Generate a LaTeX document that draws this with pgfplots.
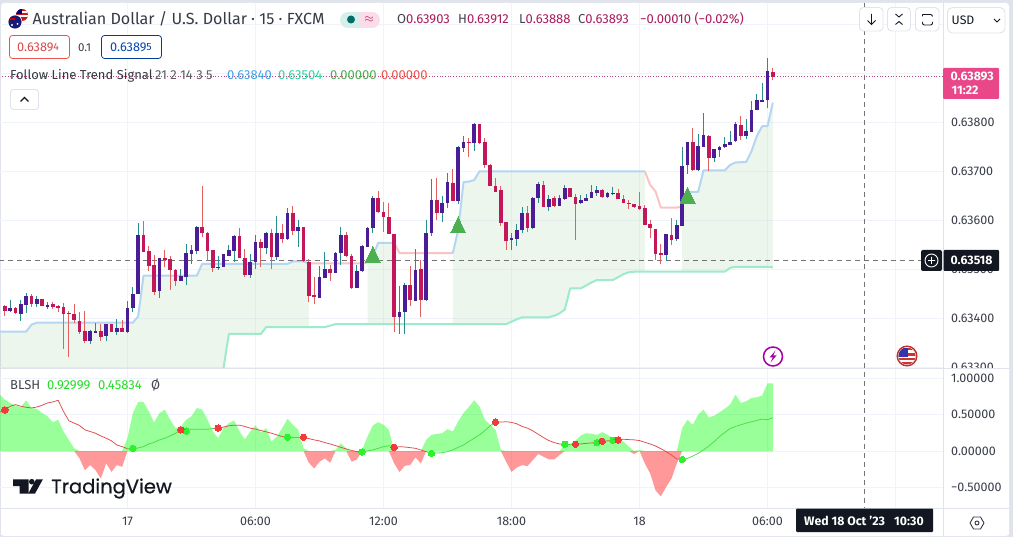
\documentclass[border=0pt]{standalone}
\usepackage{fontspec}
\usepackage{pgfplots}
\usepackage{pgfplotstable}
\pgfplotsset{compat=1.18}
\setmainfont{Fira Sans}
\newfontfamily\tvfont[FakeBold=0.5]{Poppins}
\definecolor{pagebg}{HTML}{E0E3EB}
\definecolor{gridc}{HTML}{F0F3FA}
\definecolor{framec}{HTML}{E0E3EB}
\definecolor{inkc}{HTML}{131722}
\definecolor{txtc}{HTML}{3A3E4A}
\definecolor{upbody}{HTML}{4A1C96}
\definecolor{upwick}{HTML}{2A8C8C}
\definecolor{dnbody}{HTML}{C2185B}
\definecolor{dnwick}{HTML}{E2605E}
\definecolor{trendblue}{HTML}{B5D6F2}
\definecolor{trendred}{HTML}{F9C4C6}
\definecolor{mint}{HTML}{9DEBCB}
\definecolor{tri}{HTML}{4CAF50}
\definecolor{sigred}{HTML}{E24A4A}
\definecolor{siggreen}{HTML}{45E045}
\definecolor{dotred}{HTML}{F23A3A}
\definecolor{dotgreen}{HTML}{30EE30}
\definecolor{tagpink}{HTML}{E9478A}
\definecolor{hdrval}{HTML}{A81B5E}
\definecolor{lgblue}{HTML}{42A0E6}
\definecolor{lgmint}{HTML}{2ED3A0}
\definecolor{lgred}{HTML}{EF5350}
\definecolor{lgbright}{HTML}{22DD22}
\definecolor{pillteal}{HTML}{D6EFEA}
\definecolor{pillpink}{HTML}{FBDCE8}
\definecolor{dotline}{HTML}{B0477F}

\pgfplotstableread{
i o h l c
-22 0.63415 0.63438 0.63412 0.63421
-20 0.63410 0.63438 0.63394 0.63429
-19 0.63428 0.63453 0.63411 0.63447
-17 0.63430 0.63447 0.63424 0.63440
-15 0.63426 0.63434 0.63420 0.63429
-7 0.63354 0.63378 0.63348 0.63374
-6 0.63373 0.63392 0.63374 0.63375
-4 0.63363 0.63390 0.63354 0.63389
-2 0.63373 0.63399 0.63366 0.63380
0 0.63373 0.63436 0.63370 0.63423
1 0.63422 0.63464 0.63414 0.63451
2 0.63450 0.63596 0.63450 0.63572
6 0.63455 0.63523 0.63442 0.63523
10 0.63477 0.63502 0.63477 0.63486
11 0.63485 0.63553 0.63468 0.63533
12 0.63532 0.63552 0.63513 0.63540
13 0.63538 0.63589 0.63532 0.63587
17 0.63504 0.63528 0.63499 0.63507
18 0.63506 0.63532 0.63506 0.63531
19 0.63529 0.63552 0.63529 0.63540
20 0.63538 0.63570 0.63516 0.63568
23 0.63489 0.63533 0.63484 0.63515
24 0.63514 0.63570 0.63502 0.63556
26 0.63544 0.63578 0.63533 0.63574
28 0.63526 0.63610 0.63519 0.63576
30 0.63562 0.63626 0.63561 0.63615
32 0.63579 0.63603 0.63548 0.63586
36 0.63442 0.63508 0.63441 0.63484
37 0.63483 0.63535 0.63483 0.63502
39 0.63493 0.63536 0.63493 0.63535
40 0.63534 0.63586 0.63508 0.63571
43 0.63463 0.63509 0.63463 0.63498
44 0.63497 0.63551 0.63496 0.63548
45 0.63546 0.63587 0.63546 0.63586
46 0.63585 0.63650 0.63575 0.63647
51 0.63403 0.63465 0.63367 0.63413
52 0.63412 0.63473 0.63368 0.63468
54 0.63437 0.63543 0.63437 0.63500
56 0.63437 0.63601 0.63437 0.63575
57 0.63575 0.63686 0.63569 0.63643
59 0.63615 0.63652 0.63597 0.63637
60 0.63636 0.63699 0.63626 0.63678
62 0.63640 0.63752 0.63633 0.63751
63 0.63750 0.63772 0.63740 0.63761
65 0.63758 0.63798 0.63742 0.63798
72 0.63560 0.63575 0.63540 0.63564
73 0.63563 0.63593 0.63548 0.63582
74 0.63581 0.63627 0.63574 0.63615
76 0.63586 0.63649 0.63584 0.63646
77 0.63645 0.63679 0.63637 0.63675
79 0.63628 0.63652 0.63620 0.63645
81 0.63630 0.63652 0.63630 0.63645
82 0.63643 0.63672 0.63642 0.63666
85 0.63635 0.63652 0.63634 0.63642
86 0.63641 0.63656 0.63641 0.63647
87 0.63647 0.63673 0.63647 0.63658
88 0.63656 0.63671 0.63651 0.63662
90 0.63649 0.63659 0.63648 0.63656
91 0.63655 0.63669 0.63652 0.63658
101 0.63530 0.63573 0.63518 0.63573
103 0.63561 0.63603 0.63560 0.63591
104 0.63590 0.63751 0.63590 0.63713
105 0.63712 0.63761 0.63696 0.63760
107 0.63703 0.63777 0.63702 0.63751
108 0.63751 0.63819 0.63751 0.63775
110 0.63728 0.63747 0.63720 0.63745
111 0.63745 0.63753 0.63730 0.63751
112 0.63751 0.63770 0.63749 0.63756
113 0.63755 0.63783 0.63755 0.63762
114 0.63761 0.63802 0.63760 0.63797
116 0.63773 0.63807 0.63766 0.63782
117 0.63781 0.63845 0.63781 0.63827
118 0.63826 0.63858 0.63826 0.63846
119 0.63844 0.63881 0.63844 0.63845
120 0.63845 0.63931 0.63830 0.63905
}\candUp

\pgfplotstableread{
i o h l c
-23 0.63426 0.63428 0.63404 0.63415
-21 0.63421 0.63424 0.63409 0.63411
-18 0.63447 0.63450 0.63424 0.63430
-16 0.63439 0.63440 0.63426 0.63426
-14 0.63429 0.63433 0.63420 0.63424
-13 0.63426 0.63429 0.63414 0.63422
-12 0.63423 0.63432 0.63338 0.63410
-11 0.63411 0.63417 0.63322 0.63408
-10 0.63409 0.63430 0.63390 0.63396
-9 0.63396 0.63413 0.63368 0.63373
-8 0.63374 0.63415 0.63349 0.63354
-5 0.63374 0.63390 0.63355 0.63363
-3 0.63388 0.63389 0.63372 0.63373
-1 0.63380 0.63397 0.63373 0.63373
3 0.63572 0.63599 0.63536 0.63536
4 0.63537 0.63548 0.63497 0.63508
5 0.63509 0.63530 0.63449 0.63455
7 0.63523 0.63540 0.63506 0.63519
8 0.63521 0.63528 0.63458 0.63500
9 0.63500 0.63502 0.63466 0.63477
14 0.63587 0.63672 0.63567 0.63575
15 0.63576 0.63577 0.63518 0.63538
16 0.63539 0.63540 0.63495 0.63504
21 0.63568 0.63584 0.63523 0.63524
22 0.63525 0.63541 0.63484 0.63489
25 0.63556 0.63561 0.63505 0.63544
27 0.63574 0.63584 0.63503 0.63526
29 0.63576 0.63592 0.63554 0.63562
31 0.63615 0.63631 0.63572 0.63579
33 0.63586 0.63587 0.63516 0.63517
34 0.63516 0.63522 0.63434 0.63447
35 0.63447 0.63485 0.63429 0.63442
38 0.63502 0.63510 0.63477 0.63493
41 0.63571 0.63577 0.63527 0.63528
42 0.63529 0.63531 0.63459 0.63463
47 0.63647 0.63660 0.63614 0.63618
48 0.63618 0.63638 0.63577 0.63607
49 0.63608 0.63635 0.63572 0.63573
50 0.63572 0.63573 0.63371 0.63403
53 0.63468 0.63507 0.63427 0.63437
55 0.63501 0.63520 0.63405 0.63437
58 0.63643 0.63686 0.63601 0.63615
61 0.63678 0.63706 0.63640 0.63640
64 0.63761 0.63769 0.63730 0.63758
66 0.63798 0.63798 0.63757 0.63758
67 0.63761 0.63769 0.63708 0.63714
68 0.63714 0.63716 0.63670 0.63671
69 0.63671 0.63686 0.63658 0.63660
70 0.63662 0.63670 0.63590 0.63595
71 0.63597 0.63597 0.63541 0.63560
75 0.63615 0.63631 0.63577 0.63585
78 0.63674 0.63681 0.63628 0.63628
80 0.63645 0.63651 0.63628 0.63630
83 0.63666 0.63667 0.63649 0.63649
84 0.63650 0.63654 0.63560 0.63635
89 0.63662 0.63664 0.63647 0.63649
92 0.63658 0.63665 0.63644 0.63645
93 0.63645 0.63652 0.63637 0.63637
94 0.63637 0.63642 0.63624 0.63635
95 0.63635 0.63635 0.63627 0.63628
96 0.63630 0.63658 0.63622 0.63624
97 0.63625 0.63632 0.63591 0.63591
98 0.63593 0.63601 0.63565 0.63584
99 0.63584 0.63584 0.63521 0.63532
100 0.63534 0.63552 0.63512 0.63530
102 0.63570 0.63605 0.63550 0.63561
106 0.63760 0.63790 0.63703 0.63704
109 0.63774 0.63775 0.63702 0.63728
115 0.63796 0.63813 0.63764 0.63773
121 0.63903 0.63912 0.63888 0.63893
}\candDn

\pgfplotstableread{
i p
-24 0.63373
-19 0.63373
-18 0.63387
-17 0.63391
1 0.63391
2 0.63404
3 0.63487
13 0.63487
14 0.63511
30 0.63511
31 0.63516
33 0.63516
34 0.63512
44 0.63512
45 0.63514
46 0.63526
47 0.63554
50 0.63554
51 0.63533
61 0.63533
62 0.63580
63 0.63678
64 0.63679
65 0.63682
66 0.63700
97 0.63700
98 0.63672
99 0.63659
100 0.63626
103 0.63626
104 0.63628
105 0.63658
107 0.63658
108 0.63702
112 0.63702
113 0.63713
114 0.63718
116 0.63719
117 0.63741
118 0.63772
119 0.63792
120 0.63792
121 0.63840
}\trendT

\pgfplotstableread{
i p
-24 0.63250
17 0.63250
18 0.63298
19 0.63368
25 0.63368
26 0.63382
37 0.63382
38 0.63385
39 0.63388
71 0.63388
72 0.63393
73 0.63398
74 0.63402
79 0.63402
80 0.63405
81 0.63410
82 0.63418
83 0.63461
85 0.63461
86 0.63467
87 0.63473
88 0.63478
91 0.63478
92 0.63484
93 0.63490
94 0.63494
95 0.63495
112 0.63495
113 0.63503
114 0.63505
120 0.63505
121 0.63504
}\trendB

\pgfplotstableread{
i p
-24 0.63373
-19 0.63373
-18 0.63387
-17 0.63391
1 0.63391
2 0.63404
3 0.63487
13 0.63487
14 0.63511
30 0.63511
31 0.63516
33 0.63516
34 0.63512
34 0.63382
26 0.63382
25 0.63368
19 0.63368
18 0.63298
17 0.63250
-24 0.63250
}\zoneA
\pgfplotstableread{
i p
45 0.63514
46 0.63526
47 0.63554
50 0.63554
50 0.63388
45 0.63388
}\zoneB
\pgfplotstableread{
i p
61 0.63533
62 0.63580
63 0.63678
64 0.63679
65 0.63682
66 0.63700
97 0.63700
97 0.63495
95 0.63495
94 0.63494
93 0.63490
92 0.63484
91 0.63478
88 0.63478
87 0.63473
86 0.63467
85 0.63461
83 0.63461
82 0.63418
81 0.63410
80 0.63405
79 0.63402
74 0.63402
73 0.63398
72 0.63393
71 0.63388
61 0.63388
}\zoneC
\pgfplotstableread{
i p
104 0.63628
105 0.63658
107 0.63658
108 0.63702
112 0.63702
113 0.63713
114 0.63718
116 0.63719
117 0.63741
118 0.63772
119 0.63792
120 0.63792
121 0.63840
121 0.63504
120 0.63505
114 0.63505
113 0.63503
112 0.63495
104 0.63495
}\zoneD

\pgfplotstableread{
i v
-24 .778
-23 .708
-22 .662
-21 .625
-20 .606
-19 .699
-18 .593
-17 .579
-16 .523
-15 .477
-14 .394
-13 .431
-12 .269
-11 .153
-10 .037
-9 -.102
-8 -.264
-7 -.194
-6 -.264
-5 -.380
-4 -.171
-3 -.287
-2 -.194
-1 -.218
0 .176
1 .523
2 .676
3 .676
4 .546
5 .394
6 .523
7 .569
8 .431
9 .315
10 .338
11 .431
12 .477
13 .593
14 .569
15 .431
16 .269
17 .176
18 .315
19 .384
20 .421
21 .269
22 .162
23 .269
24 .352
25 .255
26 .315
27 .130
28 .199
29 .315
30 .444
31 .361
32 .292
33 .037
34 -.162
35 -.241
36 -.148
37 -.102
38 -.162
39 .014
40 .106
41 .037
42 -.148
43 -.116
44 .014
45 .199
46 .352
47 .398
48 .361
49 .292
50 -.171
51 -.290
52 -.204
53 -.194
54 -.088
55 -.171
56 .153
57 .222
58 .236
59 .245
60 .301
61 .269
62 .407
63 .523
64 .606
65 .699
66 .616
67 .431
68 .361
69 .292
70 .014
71 -.148
72 -.287
73 -.227
74 -.194
75 -.208
76 -.125
77 -.042
78 -.079
79 -.116
80 -.116
81 -.056
82 .083
83 .097
84 .144
85 .213
86 .245
87 .236
88 .222
89 .259
90 .222
91 .176
92 .167
93 .130
94 .060
95 -.042
96 .014
97 -.171
98 -.310
99 -.542
100 -.625
101 -.495
102 -.380
103 -.171
104 .315
105 .431
106 .361
107 .500
108 .569
109 .463
110 .486
111 .532
112 .583
113 .639
114 .778
115 .662
116 .685
117 .731
118 .741
119 .764
120 .931
121 .930
}\oscT

\pgfplotstableread{
i s
-24 .532
-23 .565
-22 .616
-21 .639
-20 .616
-19 .602
-18 .593
-17 .606
-16 .630
-15 .662
-14 .676
-13 .699
-12 .546
-11 .417
-10 .384
-9 .352
-8 .292
-7 .269
-6 .245
-5 .208
-4 .176
-3 .139
-2 .083
-1 .060
0 .032
1 .037
2 .042
3 .060
4 .097
5 .120
6 .153
7 .176
8 .208
9 .245
10 .292
11 .273
12 .300
13 .300
14 .300
15 .300
16 .310
17 .315
18 .329
19 .347
20 .356
21 .356
22 .338
23 .315
24 .301
25 .282
26 .264
27 .245
28 .222
29 .199
30 .190
31 .190
32 .190
33 .190
34 .171
35 .153
36 .139
37 .116
38 .097
39 .074
40 .051
41 .028
42 .009
43 -.009
44 -.014
45 0
46 .014
47 .037
48 .060
49 .074
50 .051
51 .060
52 .055
53 .046
54 .037
55 .014
56 -.009
57 -.032
58 -.028
59 -.023
60 -.009
61 .014
62 .051
63 .083
64 .130
65 .176
66 .222
67 .282
68 .347
69 .398
70 .398
71 .403
72 .394
73 .375
74 .338
75 .315
76 .278
77 .231
78 .185
79 .144
80 .116
81 .097
82 .093
83 .093
84 .093
85 .097
86 .106
87 .111
88 .116
89 .134
90 .140
91 .148
92 .153
93 .162
94 .157
95 .153
96 .144
97 .120
98 .097
99 .069
100 .032
101 -.009
102 -.056
103 -.111
104 -.116
105 -.102
106 -.069
107 -.032
108 .014
109 .069
110 .130
111 .199
112 .255
113 .310
114 .338
115 .361
116 .384
117 .403
118 .421
119 .440
120 .431
121 .458
}\sigT

\pgfplotstableread{
i s
-23 .565
10 .292
17 .315
33 .190
50 .051
69 .398
84 .093
89 .134
92 .153
}\dotsR
\pgfplotstableread{
i s
1 .037
11 .273
30 .190
44 -.014
57 -.032
82 .093
88 .116
91 .148
104 -.116
}\dotsG

\newcommand{\candles}[3]{%
  \addplot[draw=none,mark=none,forget plot,error bars/.cd,y dir=both,y explicit,error mark=none,
    error bar style={draw=#2,line width=1pt,solid}]
    table[x=i,y expr={(\thisrow{h}+\thisrow{l})/2},y error expr={(\thisrow{h}-\thisrow{l})/2}] {#1};
  \addplot[draw=none,mark=none,forget plot,error bars/.cd,y dir=both,y explicit,error mark=none,
    error bar style={draw=#3,line width=3.4pt,solid}]
    table[x=i,y expr={(\thisrow{o}+\thisrow{c})/2},y error expr={abs(\thisrow{o}-\thisrow{c})/2}] {#1};
}
\newcommand{\trendseg}[3]{\addplot[#3,line width=2pt,line join=round,forget plot,restrict x to domain=#1:#2] table[x=i,y=p] {\trendT};}
\newcommand{\sigseg}[3]{\addplot[#3,line width=.75pt,forget plot,restrict x to domain=#1:#2] table[x=i,y=s] {\sigT};}
\newcommand{\fillzone}[1]{\addplot[fill=tri,fill opacity=.1,draw=none,forget plot] table[x=i,y=p] {#1} -- cycle;}

\pgfplotsset{tvaxis/.style={
  scale only axis, width=943pt, xmin=-23.906, xmax=152.906,
  axis line style={draw=none}, major tick length=0pt,
  grid=major, grid style={gridc,line width=.8pt},
  xtick={0,24,48,72,96,120,144},
  tick label style={font=\fontsize{12.5}{14}\selectfont,text=txtc,inner sep=0pt},
  yticklabel pos=right,
  yticklabel style={anchor=west,xshift=8pt},
  clip=true}}

\begin{document}
\begin{tikzpicture}
\useasboundingbox (0,0) rectangle (1013pt,-537pt);
\begin{scope}[x=1pt,y=-1pt]
  \fill[pagebg] (0,0) rectangle (1013,537);
  \fill[white,rounded corners=3pt] (1,3) rectangle (1009,536);
\end{scope}

\begin{axis}[tvaxis, at={(0pt,-369pt)}, anchor=south west, height=366pt,
  ymin=0.632965, ymax=0.640435,
  ytick={0.633,0.634,0.635,0.636,0.637,0.638,0.639,0.640},
  yticklabels={0.63300,0.63400,0.63500,0.63600,0.63700,0.63800,,},
  xticklabels={}]
  \fillzone{\zoneA}
  \fillzone{\zoneB}
  \fillzone{\zoneC}
  \fillzone{\zoneD}
  \addplot[mint,line width=2pt,line join=round,forget plot] table[x=i,y=p] {\trendB};
  \trendseg{-24}{34}{trendblue}
  \trendseg{34}{45}{trendred}
  \trendseg{45}{50}{trendblue}
  \trendseg{50}{61}{trendred}
  \trendseg{61}{97}{trendblue}
  \trendseg{97}{104}{trendred}
  \trendseg{104}{121}{trendblue}
  \addplot[dotline,dotted,line width=.7pt,forget plot] coordinates {(-24,0.63893) (153,0.63893)};
  \addplot[draw=black!55,dash pattern=on 5pt off 4pt,line width=.9pt,forget plot] coordinates {(-24,0.63518) (149,0.63518)};
  \candles{\candDn}{dnwick}{dnbody}
  \candles{\candUp}{upwick}{upbody}
  \addplot[only marks,tri,mark=triangle*,mark size=8.66pt,mark options={solid,fill=tri,draw=tri,line width=0pt,yscale=1.23},forget plot]
    coordinates {(46,0.63525) (62,0.63585) (105,0.63646)};
\end{axis}

\begin{scope}[x=1pt,y=-1pt]
  \fill[white] (1,369) rectangle (1009,535);
\end{scope}

\begin{axis}[tvaxis, at={(0pt,-508pt)}, anchor=south west, height=139pt,
  ymin=-0.7851, ymax=1.1295,
  ytick={-0.5,0,0.5,1},
  yticklabels={−0.50000,0.00000,0.50000,1.00000},
  xticklabels={17,06:00,12:00,18:00,18,06:00,},
  xticklabel style={anchor=base,yshift=-17.5pt}]
  \addplot[draw=none,fill=green,fill opacity=.4,forget plot] table[x=i,y expr={max(\thisrow{v},0)}] {\oscT} \closedcycle;
  \addplot[draw=none,fill=red,fill opacity=.4,forget plot] table[x=i,y expr={min(\thisrow{v},0)}] {\oscT} \closedcycle;
  \sigseg{-24}{0}{sigred}
  \sigseg{0}{10}{siggreen}
  \sigseg{10}{11}{sigred}
  \sigseg{11}{17}{siggreen}
  \sigseg{17}{30}{sigred}
  \sigseg{30}{33}{siggreen}
  \sigseg{33}{44}{sigred}
  \sigseg{44}{50}{siggreen}
  \sigseg{50}{57}{sigred}
  \sigseg{57}{69}{siggreen}
  \sigseg{69}{82}{sigred}
  \sigseg{82}{84}{siggreen}
  \sigseg{84}{88}{sigred}
  \sigseg{88}{89}{siggreen}
  \sigseg{89}{91}{sigred}
  \sigseg{91}{92}{siggreen}
  \sigseg{92}{104}{sigred}
  \sigseg{104}{121}{siggreen}
  \addplot[only marks,dotgreen,mark=*,mark size=3.2pt,mark options={solid,fill=dotgreen,draw=dotgreen,line width=0pt},forget plot] table[x=i,y=s] {\dotsG};
  \addplot[only marks,dotred,mark=*,mark size=3.2pt,mark options={solid,fill=dotred,draw=dotred,line width=0pt},forget plot] table[x=i,y=s] {\dotsR};
\end{axis}

\begin{scope}[x=1pt,y=-1pt]
  % frame lines
  \draw[framec,line width=1pt] (943,3) -- (943,536);
  \draw[framec,line width=1pt] (1,369) -- (1009,369);
  \draw[framec,line width=1pt] (1,508) -- (1009,508);
  % crosshair vertical
  \draw[black!55,dash pattern=on 5pt off 4pt,line width=.9pt] (864.5,3) -- (864.5,508);

  % flag icon
  \fill[white] (22,15) circle (6.6);
  \begin{scope}
    \clip (22,15) circle (6);
    \fill[red!75!black!90] (15,9) rectangle (29,21);
    \fill[white] (15,11) rectangle (29,13);
    \fill[white] (15,15) rectangle (29,17);
    \fill[blue!50!black] (15,9) rectangle (22,14);
  \end{scope}
  \fill[white] (15,22) circle (7.4);
  \fill[blue!40!black!90] (15,22) circle (6.6);
  \fill[red!80!black] (10,18) rectangle (15,20);
  \fill[white] (17.5,24) circle (1);
  \fill[white] (12,25) circle (1.2);

  % title
  \node[anchor=base west,inner sep=0,font=\fontsize{16.1}{18}\selectfont,text=inkc!85] at (32.5,25) {Australian Dollar / U.S. Dollar · 15 · FXCM};
  % status pill
  \begin{scope}
    \clip[rounded corners=8pt] (340,12) rectangle (380,28);
    \fill[pillteal] (340,12) rectangle (360,28);
    \fill[pillpink] (360,12) rectangle (380,28);
  \end{scope}
  \fill[teal!85!black] (351,19.5) circle (4);
  \node[font=\fontsize{13}{14}\selectfont,text=dnbody,inner sep=0] at (369,19.5) {$\approx$};
  % OHLC
  \begin{scope}[every node/.style={anchor=base west,inner sep=0,font=\fontsize{13}{14}\selectfont}]
    \node at (397,24) {\textcolor{inkc!80}{O}\textcolor{hdrval}{0.63903}};
    \node at (458,24) {\textcolor{inkc!80}{H}\textcolor{hdrval}{0.63912}};
    \node at (519,24) {\textcolor{inkc!80}{L}\textcolor{hdrval}{0.63888}};
    \node at (578,24) {\textcolor{inkc!80}{C}\textcolor{hdrval}{0.63893}};
    \node[text=hdrval] at (640,24) {−0.00010 (−0.02\%)};
  \end{scope}
  % buy sell boxes
  \draw[lgred,rounded corners=3pt,line width=.8pt,fill=white] (9.5,35.5) rectangle (69.5,58.5);
  \node[anchor=base west,inner sep=0,font=\fontsize{12.7}{14}\selectfont,text=lgred!90!black] at (17,52) {0.6389\raisebox{1.5pt}{\fontsize{10.5}{12}\selectfont 4}};
  \node[anchor=base west,inner sep=0,font=\fontsize{11.5}{14}\selectfont,text=txtc] at (78,52) {0.1};
  \draw[blue!60!cyan!60!black,rounded corners=3pt,line width=.8pt,fill=white] (101.5,35.5) rectangle (161.5,58.5);
  \node[anchor=base west,inner sep=0,font=\fontsize{12.7}{14}\selectfont,text=blue!60!cyan!70!black] at (110,52) {0.6389\raisebox{1.5pt}{\fontsize{10.5}{12}\selectfont 5}};
  % indicator legend
  \begin{scope}[every node/.style={anchor=base west,inner sep=0,font=\fontsize{13}{14}\selectfont}]
    \node[text=inkc!85] at (10,80) {Follow Line Trend Signal};
    \node[text=inkc!70] at (155,80) {21 2 14 3 5};
    \node[text=lgblue] at (227,80) {0.63840};
    \node[text=lgmint] at (278,80) {0.63504};
    \node[text=tri] at (330,80) {0.00000};
    \node[text=lgred] at (381,80) {0.00000};
    \node[text=inkc!80] at (10,390) {BLSH};
    \node[text=lgbright] at (47,390) {0.92999};
    \node[text=lgbright] at (98,390) {0.45834};
    \node[text=inkc!80] at (151,390) {Ø};
  \end{scope}
  % collapse button
  \draw[framec,rounded corners=3pt,line width=.9pt,fill=white] (10.5,89.5) rectangle (38.5,109.5);
  \draw[inkc,line width=1.1pt] (20.5,101.5) -- (24.5,97.5) -- (28.5,101.5);

  % top right buttons
  \foreach \xa/\xb in {859.5/883,887.5/910.5,915.5/939}
    \draw[framec,rounded corners=4pt,line width=.9pt,fill=white] (\xa,7.5) rectangle (\xb,31);
  \draw[inkc,line width=.9pt] (871.5,14) -- (871.5,24) (867.5,20.5) -- (871.5,24.5) -- (875.5,20.5);
  \draw[inkc,line width=.9pt] (895.5,14) -- (899,17) -- (902.5,14) (895.5,24.5) -- (899,21.5) -- (902.5,24.5);
  \draw[inkc,line width=.9pt,rounded corners=2pt] (922.5,14.5) -- (922.5,16.5) (922.5,22) -- (922.5,25) -- (932.5,25) -- (932.5,22) (932.5,16.5) -- (932.5,14.5) -- (922.5,14.5);
  \draw[framec,rounded corners=5pt,line width=.9pt,fill=white] (947.5,7.5) rectangle (1005,33);
  \node[anchor=base west,inner sep=0,font=\fontsize{12.3}{14}\selectfont,text=inkc] at (951.5,25) {USD};
  \draw[inkc,line width=.9pt] (994,19) -- (997,22) -- (1000,19);

  % last price tag
  \fill[tagpink,rounded corners=1pt] (943,68) rectangle (999,99);
  \node[anchor=base west,inner sep=0,font=\bfseries\fontsize{12.3}{14}\selectfont,text=white] at (950.5,81) {0.63893};
  \node[anchor=base west,inner sep=0,font=\bfseries\fontsize{12.3}{14}\selectfont,text=white] at (951.5,95) {11:22};
  % crosshair tag
  \fill[inkc,rounded corners=2pt] (921,250) rectangle (942,271);
  \draw[white,line width=.9pt] (931.5,260.5) circle (6.5) (928,260.5) -- (935,260.5) (931.5,257) -- (931.5,264);
  \fill[inkc,rounded corners=1pt] (943.5,250) rectangle (999,271);
  \node[anchor=base west,inner sep=0,font=\bfseries\fontsize{12.3}{14}\selectfont,text=white] at (950.5,265) {0.63518};
  % date tag
  \fill[inkc,rounded corners=1pt] (796,508.5) rectangle (933,532);
  \node[anchor=base west,inner sep=0,font=\bfseries\fontsize{12.3}{14}\selectfont,text=white] at (804,525) {Wed 18 Oct '23};
  \node[anchor=base east,inner sep=0,font=\bfseries\fontsize{12.3}{14}\selectfont,text=white] at (924,525) {10:30};
  % settings
  \draw[inkc!85,line width=.9pt,line join=round] (970,523) -- (973.5,517) -- (980.5,517) -- (984,523) -- (980.5,529) -- (973.5,529) -- cycle;
  \draw[inkc!85,line width=.9pt] (977,523) circle (2);
  % lightning
  \draw[violet!70!magenta,line width=1.5pt,fill=white] (773,356.5) circle (9.5);
  \fill[violet!70!magenta] (775.5,350.5) -- (769.5,357.5) -- (772.8,357.5) -- (770.5,362.5) -- (776.5,355.5) -- (773.2,355.5) -- cycle;
  % US event flag
  \fill[white] (907,356) circle (10.5);
  \begin{scope}
    \clip (907,356) circle (8.5);
    \fill[red!75!black!80] (898,348) rectangle (916,365);
    \fill[white] (898,350.5) rectangle (916,353);
    \fill[white] (898,356) rectangle (916,358);
    \fill[white] (898,360.5) rectangle (916,362.5);
    \fill[blue!60!black!80] (898,348) rectangle (908,357);
  \end{scope}
  \draw[dotred!80!black,line width=1.4pt] (907,356) circle (9.8);
  % logo
  \fill[inkc] (13,479.5) -- (28.5,479.5) -- (28.5,493.5) -- (19.5,493.5) -- (19.5,486) -- (13,486) -- cycle;
  \fill[inkc] (31.8,481.7) circle (2.8);
  \fill[inkc] (36,479.5) -- (42.8,479.5) -- (35,493.5) -- (28.3,493.5) -- cycle;
  \node[anchor=base west,inner sep=0,font=\tvfont\fontsize{19.5}{22}\selectfont,text=inkc] at (51,493.3) {TradingView};
\end{scope}
\end{tikzpicture}
\end{document}
